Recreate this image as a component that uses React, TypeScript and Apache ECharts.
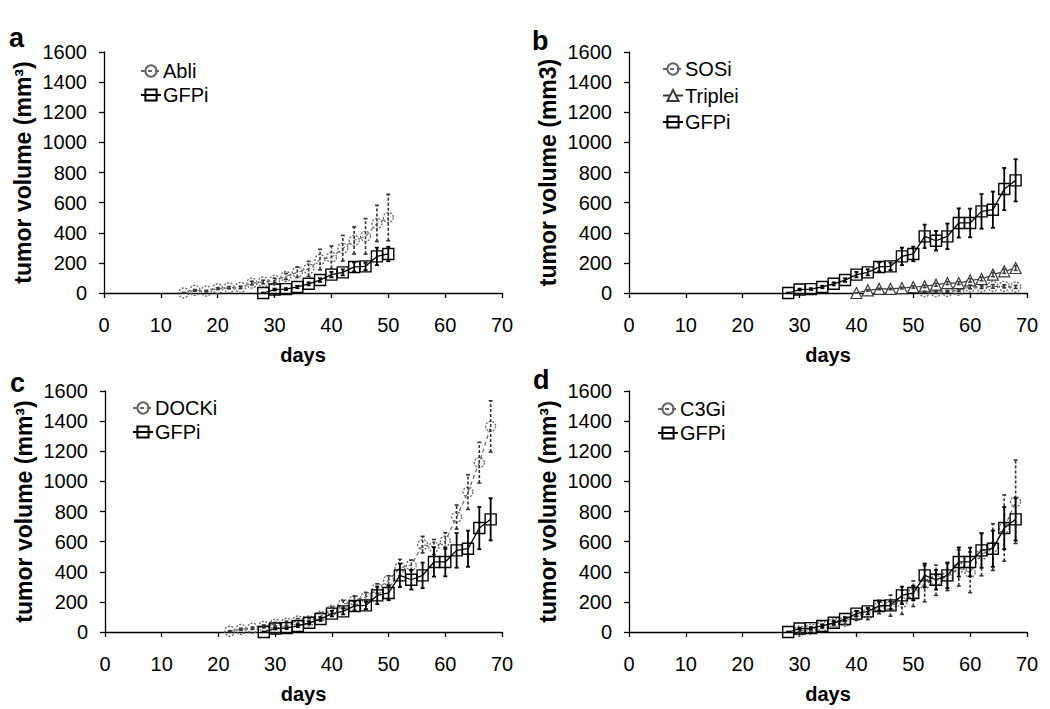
import React, { useEffect, useRef } from 'react';
import * as echarts from 'echarts';

// ---------- data ----------
const xTicks = [0, 10, 20, 30, 40, 50, 60, 70];
const yTicks = [0, 200, 400, 600, 800, 1000, 1200, 1400, 1600];

const gfpDays = [28, 30, 32, 34, 36, 38, 40, 42, 44, 46, 48, 50, 52, 54, 56, 58, 60, 62, 64, 66, 68];
const gfpVals = [0, 23, 26, 40, 61, 86, 122, 137, 173, 177, 243, 259, 376, 347, 376, 465, 465, 542, 553, 690, 748];
const gfpErr = [3, 6, 6, 8, 10, 12, 18, 20, 30, 25, 58, 48, 78, 65, 85, 97, 95, 115, 120, 140, 140];

const abliDays = [14, 16, 18, 20, 22, 24, 26, 28, 30, 32, 34, 36, 38, 40, 42, 44, 46, 48, 50];
const abliVals = [0, 18, 13, 29, 35, 37, 66, 73, 84, 110, 138, 160, 222, 237, 297, 349, 376, 462, 501];
const abliErr = [3, 5, 5, 6, 7, 8, 12, 12, 14, 20, 35, 50, 68, 75, 85, 90, 118, 120, 154];

const sosDays = [52, 54, 56, 58, 60, 62, 64, 66, 68];
const sosVals = [7, 7, 11, 18, 40, 40, 44, 44, 40];
const sosErr = [5, 6, 6, 8, 12, 10, 12, 10, 10];

const tripleDays = [40, 42, 44, 46, 48, 50, 52, 54, 56, 58, 60, 62, 64, 66, 68];
const tripleVals = [0, 18, 27, 27, 33, 40, 44, 55, 66, 66, 84, 93, 122, 144, 166];
const tripleErr = [2, 5, 5, 5, 6, 8, 8, 10, 10, 10, 12, 12, 14, 14, 16];

const dockDays = [22, 24, 26, 28, 30, 32, 34, 36, 38, 40, 42, 44, 46, 48, 50, 52, 54, 56, 58, 60, 62, 64, 66, 68];
const dockVals = [5, 18, 25, 37, 52, 58, 73, 73, 106, 144, 184, 210, 232, 288, 343, 427, 443, 580, 564, 604, 763, 929, 1124, 1365];
const dockErr = [4, 6, 8, 10, 12, 14, 16, 15, 20, 22, 25, 28, 30, 32, 30, 55, 35, 55, 50, 55, 80, 115, 135, 170];

const c3gDays = [30, 32, 34, 36, 38, 40, 42, 44, 46, 48, 50, 52, 54, 56, 58, 60, 62, 64, 66, 68];
const c3gVals = [8, 20, 38, 60, 71, 108, 122, 166, 175, 197, 254, 321, 343, 365, 425, 396, 513, 564, 690, 865];
const c3gErr = [10, 12, 14, 18, 20, 30, 40, 45, 70, 80, 85, 120, 100, 90, 120, 135, 140, 155, 220, 277];

const panelLetters = ['a', 'b', 'c', 'd'];
const yNames = ['tumor volume (mm³)', 'tumor volume (mm3)', 'tumor volume (mm³)', 'tumor volume (mm³)'];
const xName = 'days';

// ---------- helpers ----------
const FONT = '"Liberation Sans", Arial, sans-serif';
const GRAY = '#666666';
const BAR_GRAY = '#333333';
const TRI = '#3a3a3a';

const pairs = (d: number[], v: number[]) => d.map((x, i) => [x, v[i]]);
const errs = (d: number[], v: number[], e: number[]) =>
  d.map((x, i) => [x, Math.max(0, v[i] - e[i]), v[i] + e[i]]);

const errRender = (color: string, dashed: boolean, width: number) => (params: any, api: any) => {
  const x = api.value(0);
  const p1 = api.coord([x, api.value(1)]);
  const p2 = api.coord([x, api.value(2)]);
  const cw = 2;
  const style: any = { stroke: color, lineWidth: width, fill: null };
  if (dashed) style.lineDash = [3, 2];
  return {
    type: 'group',
    children: [
      { type: 'line', shape: { x1: p1[0], y1: p1[1], x2: p2[0], y2: p2[1] }, style },
      { type: 'line', shape: { x1: p1[0] - cw, y1: p1[1], x2: p1[0] + cw, y2: p1[1] }, style: { ...style, lineDash: null } },
      { type: 'line', shape: { x1: p2[0] - cw, y1: p2[1], x2: p2[0] + cw, y2: p2[1] }, style: { ...style, lineDash: null } },
    ],
  };
};

const circleSeries = (name: string, idx: number, d: number[], v: number[]) => ({
  type: 'line', name, xAxisIndex: idx, yAxisIndex: idx, data: pairs(d, v),
  symbol: 'circle', symbolSize: 10, showSymbol: true, silent: true, z: 3,
  lineStyle: { color: GRAY, width: 1.2, type: [4, 3] },
  itemStyle: { color: 'rgba(255,255,255,0)', borderColor: GRAY, borderWidth: 1.3, borderType: [2, 1.5] },
});
const squareSeries = (idx: number, d: number[], v: number[]) => ({
  type: 'line', name: 'GFPi', xAxisIndex: idx, yAxisIndex: idx, data: pairs(d, v),
  symbol: 'rect', symbolSize: 11, showSymbol: true, silent: true, z: 4,
  lineStyle: { color: '#000', width: 1.3 },
  itemStyle: { color: 'rgba(255,255,255,0)', borderColor: '#000', borderWidth: 1.4 },
});
const triSeries = (idx: number, d: number[], v: number[]) => ({
  type: 'line', name: 'Triplei', xAxisIndex: idx, yAxisIndex: idx, data: pairs(d, v),
  symbol: 'triangle', symbolSize: 11, showSymbol: true, silent: true, z: 3,
  lineStyle: { color: TRI, width: 1.2 },
  itemStyle: { color: '#fff', borderColor: TRI, borderWidth: 1.2 },
});
const errSeries = (idx: number, data: number[][], color: string, dashed: boolean, width: number) => ({
  type: 'custom', xAxisIndex: idx, yAxisIndex: idx, data, silent: true, z: 5,
  encode: { x: 0, y: [1, 2] },
  renderItem: errRender(color, dashed, width),
});

const grids = [
  { left: 104, top: 52, width: 398, height: 241 },
  { left: 629, top: 52, width: 398, height: 241 },
  { left: 105, top: 391, width: 397, height: 241 },
  { left: 629, top: 391, width: 398, height: 241 },
];

export default function App() {
  const ref = useRef<HTMLDivElement>(null);
  useEffect(() => {
    if (!ref.current) return;
    const chart = echarts.init(ref.current, undefined, { renderer: 'svg' });
    const axisLineStyle = { color: '#000', width: 1.3 };
    const xAxis = grids.map((_, i) => ({
      type: 'value', gridIndex: i, min: xTicks[0], max: xTicks[xTicks.length - 1], interval: 10,
      axisLine: { show: true, onZero: false, lineStyle: axisLineStyle },
      axisTick: { show: true, inside: false, length: 5, lineStyle: axisLineStyle },
      axisLabel: { show: true, fontSize: 20, color: '#000', fontFamily: FONT, margin: 22, formatter: (v: number) => String(v) },
      splitLine: { show: false },
      name: xName, nameLocation: 'middle', nameGap: 52,
      nameTextStyle: { fontSize: 20, fontWeight: 'bold', color: '#000', fontFamily: FONT },
    }));
    const yAxis = grids.map((_, i) => ({
      type: 'value', gridIndex: i, min: yTicks[0], max: yTicks[yTicks.length - 1], interval: 200,
      axisLine: { show: true, lineStyle: axisLineStyle },
      axisTick: { show: true, inside: false, length: 5, lineStyle: axisLineStyle },
      axisLabel: { show: true, fontSize: 20, color: '#000', fontFamily: FONT, margin: 17, formatter: (v: number) => String(v) },
      splitLine: { show: false },
      name: yNames[i], nameLocation: 'middle', nameGap: 70,
      nameTextStyle: { fontSize: 23, fontWeight: 'bold', color: '#000', fontFamily: FONT },
    }));

    const gfpA = 12; // panel a GFPi up to day 50
    const series: any[] = [
      // panel a
      circleSeries('Abli', 0, abliDays, abliVals),
      errSeries(0, errs(abliDays, abliVals, abliErr), BAR_GRAY, true, 1.6),
      squareSeries(0, gfpDays.slice(0, gfpA), gfpVals.slice(0, gfpA)),
      errSeries(0, errs(gfpDays.slice(0, gfpA), gfpVals.slice(0, gfpA), gfpErr.slice(0, gfpA)), '#000', false, 1.8),
      // panel b
      circleSeries('SOSi', 1, sosDays, sosVals),
      errSeries(1, errs(sosDays, sosVals, sosErr), BAR_GRAY, true, 1.6),
      triSeries(1, tripleDays, tripleVals),
      errSeries(1, errs(tripleDays, tripleVals, tripleErr), TRI, false, 1.5),
      squareSeries(1, gfpDays, gfpVals),
      errSeries(1, errs(gfpDays, gfpVals, gfpErr), '#000', false, 1.8),
      // panel c
      circleSeries('DOCKi', 2, dockDays, dockVals),
      errSeries(2, errs(dockDays, dockVals, dockErr), BAR_GRAY, true, 1.6),
      squareSeries(2, gfpDays, gfpVals),
      errSeries(2, errs(gfpDays, gfpVals, gfpErr), '#000', false, 1.8),
      // panel d
      circleSeries('C3Gi', 3, c3gDays, c3gVals),
      errSeries(3, errs(c3gDays, c3gVals, c3gErr), BAR_GRAY, true, 1.6),
      squareSeries(3, gfpDays, gfpVals),
      errSeries(3, errs(gfpDays, gfpVals, gfpErr), '#000', false, 1.8),
    ];

    const legendBase = {
      orient: 'vertical', padding: 0, itemWidth: 20, itemHeight: 14, itemGap: 4,
      selectedMode: false,
      textStyle: { fontSize: 20, color: '#000', fontFamily: FONT, padding: [0, 0, 0, -3] },
    };
    const legend = [
      { ...legendBase, left: 140, top: 61, data: ['Abli', 'GFPi'] },
      { ...legendBase, left: 662, top: 59, itemGap: 6.5, data: ['SOSi', 'Triplei', 'GFPi'] },
      { ...legendBase, left: 132, top: 398, data: ['DOCKi', 'GFPi'] },
      { ...legendBase, left: 657, top: 399, data: ['C3Gi', 'GFPi'] },
    ];

    const letterPos = [[9, 24], [532, 27], [10, 369], [533, 366]];
    const graphic = panelLetters.map((t, i) => ({
      type: 'text', x: letterPos[i][0], y: letterPos[i][1], silent: true,
      style: { text: t, fill: '#000', font: `bold 27px ${FONT}`, verticalAlign: 'alphabetic' },
    }));

    chart.setOption({
      animation: false,
      backgroundColor: '#fff',
      grid: grids,
      xAxis, yAxis, series, legend, graphic,
    });
    return () => chart.dispose();
  }, []);
  return <div ref={ref} style={{ position: 'absolute', left: 0, top: 0, width: 1050, height: 709 }} />;
}
